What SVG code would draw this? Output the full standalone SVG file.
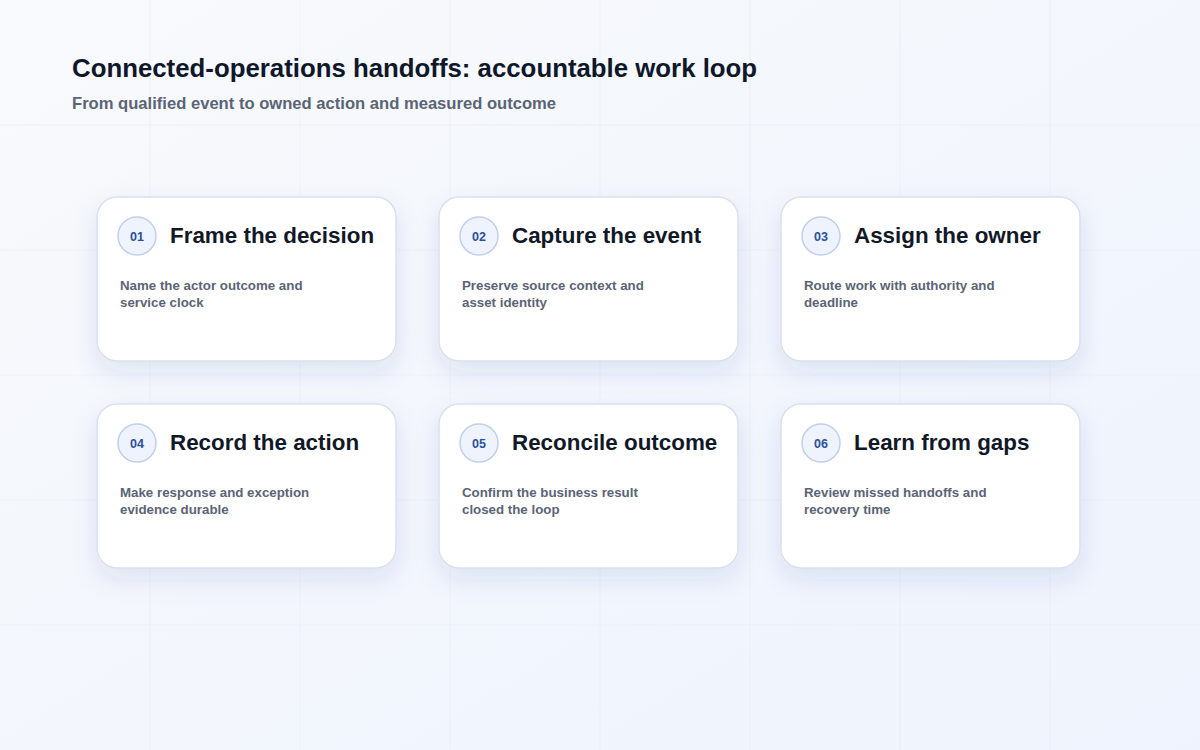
<svg xmlns="http://www.w3.org/2000/svg" width="1200" height="750" viewBox="0 0 1200 750">
  <defs>
    <linearGradient id="bg" x1="0" y1="0" x2="1" y2="1">
      <stop offset="0" stop-color="#f8fafc"/>
      <stop offset="1" stop-color="#eef3fd"/>
    </linearGradient>
    <filter id="shadow" x="-25%" y="-25%" width="150%" height="160%">
      <feDropShadow dx="0" dy="10" stdDeviation="12" flood-color="#1e3a8a" flood-opacity="0.10"/>
    </filter>
    <style>
      .grid line { stroke: #e6ebf3; stroke-width: 1; opacity: 0.55; }
      .card { fill: #ffffff; stroke: #d9e1ee; stroke-width: 1.5; filter: url(#shadow); }
      .badge { fill: #eef3fd; stroke: #bfd0ea; stroke-width: 1.5; }
      .num { font-family: "Liberation Sans", Arial, sans-serif; font-size: 12.5px; font-weight: bold; fill: #2a4f9c; text-anchor: middle; }
      .ttl { font-family: "Liberation Sans", Arial, sans-serif; font-size: 22.4px; font-weight: bold; fill: #111827; }
      .desc { font-family: "Liberation Sans", Arial, sans-serif; font-size: 13.3px; font-weight: bold; fill: #5b6475; }
      .h1 { font-family: "Liberation Sans", Arial, sans-serif; font-size: 25.8px; font-weight: bold; fill: #0f172a; }
      .h2 { font-family: "Liberation Sans", Arial, sans-serif; font-size: 16.6px; font-weight: bold; fill: #5b6475; }
    </style>
  </defs>
  <rect x="0" y="0" width="1200" height="750" fill="url(#bg)"/>
  <g class="grid">
    <line x1="150" y1="0" x2="150" y2="750"/>
    <line x1="300" y1="0" x2="300" y2="750"/>
    <line x1="450" y1="0" x2="450" y2="750"/>
    <line x1="600" y1="0" x2="600" y2="750"/>
    <line x1="750" y1="0" x2="750" y2="750"/>
    <line x1="900" y1="0" x2="900" y2="750"/>
    <line x1="1050" y1="0" x2="1050" y2="750"/>
    <line x1="0" y1="125" x2="1200" y2="125"/>
    <line x1="0" y1="250" x2="1200" y2="250"/>
    <line x1="0" y1="375" x2="1200" y2="375"/>
    <line x1="0" y1="500" x2="1200" y2="500"/>
    <line x1="0" y1="625" x2="1200" y2="625"/>
  </g>
  <g id="header">
    <text class="h1" x="72" y="77">Connected-operations handoffs: accountable work loop</text>
    <text class="h2" x="72" y="109">From qualified event to owned action and measured outcome</text>
  </g>
  <g id="connectors"></g>
  <g id="node-01">
    <rect class="card" x="97" y="197" width="299" height="164" rx="20"/>
    <circle class="badge" cx="137" cy="236" r="19"/>
    <text class="num" x="137" y="240.5">01</text>
    <text class="ttl" x="170" y="243">Frame the decision</text>
    <text class="desc" x="120" y="290">Name the actor outcome and</text>
    <text class="desc" x="120" y="307">service clock</text>
  </g>
  <g id="node-02">
    <rect class="card" x="439" y="197" width="299" height="164" rx="20"/>
    <circle class="badge" cx="479" cy="236" r="19"/>
    <text class="num" x="479" y="240.5">02</text>
    <text class="ttl" x="512" y="243">Capture the event</text>
    <text class="desc" x="462" y="290">Preserve source context and</text>
    <text class="desc" x="462" y="307">asset identity</text>
  </g>
  <g id="node-03">
    <rect class="card" x="781" y="197" width="299" height="164" rx="20"/>
    <circle class="badge" cx="821" cy="236" r="19"/>
    <text class="num" x="821" y="240.5">03</text>
    <text class="ttl" x="854" y="243">Assign the owner</text>
    <text class="desc" x="804" y="290">Route work with authority and</text>
    <text class="desc" x="804" y="307">deadline</text>
  </g>
  <g id="node-04">
    <rect class="card" x="97" y="404" width="299" height="164" rx="20"/>
    <circle class="badge" cx="137" cy="443" r="19"/>
    <text class="num" x="137" y="447.5">04</text>
    <text class="ttl" x="170" y="450">Record the action</text>
    <text class="desc" x="120" y="497">Make response and exception</text>
    <text class="desc" x="120" y="514">evidence durable</text>
  </g>
  <g id="node-05">
    <rect class="card" x="439" y="404" width="299" height="164" rx="20"/>
    <circle class="badge" cx="479" cy="443" r="19"/>
    <text class="num" x="479" y="447.5">05</text>
    <text class="ttl" x="512" y="450">Reconcile outcome</text>
    <text class="desc" x="462" y="497">Confirm the business result</text>
    <text class="desc" x="462" y="514">closed the loop</text>
  </g>
  <g id="node-06">
    <rect class="card" x="781" y="404" width="299" height="164" rx="20"/>
    <circle class="badge" cx="821" cy="443" r="19"/>
    <text class="num" x="821" y="447.5">06</text>
    <text class="ttl" x="854" y="450">Learn from gaps</text>
    <text class="desc" x="804" y="497">Review missed handoffs and</text>
    <text class="desc" x="804" y="514">recovery time</text>
  </g>
</svg>
